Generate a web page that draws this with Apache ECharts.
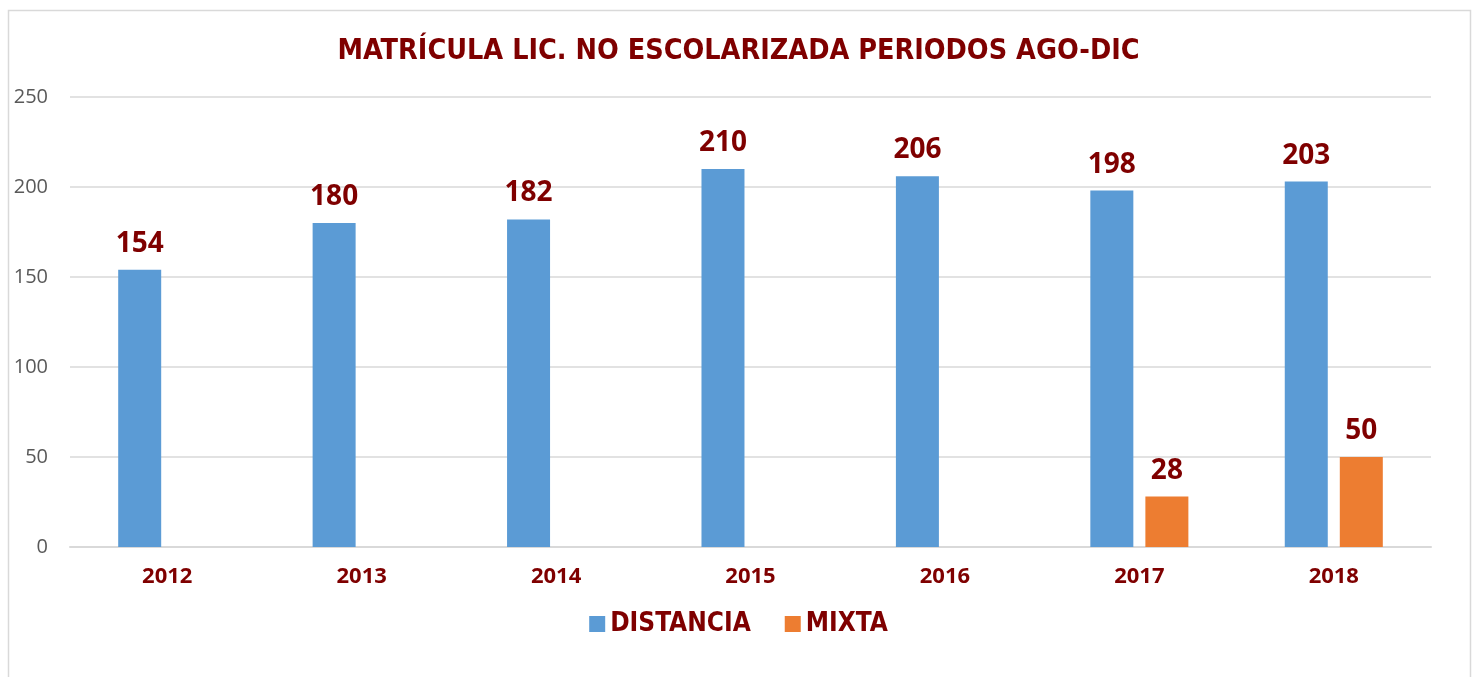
<!DOCTYPE html>
<html>
<head>
<meta charset="utf-8">
<script src="https://cdn.jsdelivr.net/npm/echarts@6/dist/echarts.min.js"></script>
<style>
html,body{margin:0;padding:0;background:#fff;}
#c{width:1477px;height:677px;}
</style>
</head>
<body>
<div id="c"></div>
<script>
const categories = ['2012','2013','2014','2015','2016','2017','2018'];
const distancia = [154,180,182,210,206,198,203];
const mixta = [null,null,null,null,null,28,50];
const seriesNames = ['DISTANCIA','MIXTA'];
const titleText = 'MATRÍCULA LIC. NO ESCOLARIZADA PERIODOS AGO-DIC';

const red = '#7F0000';
const chart = echarts.init(document.getElementById('c'));
const labelStyle = {
  show: true, position: 'top', distance: 12,
  color: red, fontWeight: 'bold', fontSize: 28, fontFamily: 'Open Sans'
};
chart.setOption({
  backgroundColor: '#fff',
  animation: false,
  graphic: [{
    type: 'rect', shape: {x: 8.5, y: 10.5, width: 1462, height: 700},
    style: {fill: 'none', stroke: '#d9d9d9', lineWidth: 1.5}, z: -1
  }],
  title: {
    text: titleText, left: 'center', top: 32,
    textStyle: {color: red, fontSize: 28.5, fontWeight: 'bold', fontFamily: 'DejaVu Sans Condensed'}
  },
  legend: {
    data: seriesNames, bottom: 35, left: 'center',
    itemWidth: 16, itemHeight: 16, itemGap: 34, icon: 'rect',
    textStyle: {color: red, fontSize: 26, fontWeight: 'bold', fontFamily: 'DejaVu Sans Condensed'}
  },
  grid: {left: 70, right: 46, top: 97, bottom: 130},
  xAxis: {
    type: 'category', data: categories,
    axisLine: {lineStyle: {color: '#d9d9d9', width: 2}},
    axisTick: {show: false},
    axisLabel: {color: red, fontWeight: 'bold', fontSize: 22, margin: 19, fontFamily: 'Open Sans'}
  },
  yAxis: {
    type: 'value', min: 0, max: 250, interval: 50,
    axisLine: {show: false}, axisTick: {show: false},
    splitLine: {lineStyle: {color: '#d9d9d9', width: 1.5}},
    axisLabel: {color: '#595959', fontSize: 20, margin: 22, fontFamily: 'Open Sans'}
  },
  series: [
    {name: seriesNames[0], type: 'bar', data: distancia, barWidth: 43, barGap: '28%',
     itemStyle: {color: '#5B9BD5'}, label: labelStyle},
    {name: seriesNames[1], type: 'bar', data: mixta, barWidth: 43,
     itemStyle: {color: '#ED7D31'}, label: labelStyle}
  ]
});
</script>
</body>
</html>
